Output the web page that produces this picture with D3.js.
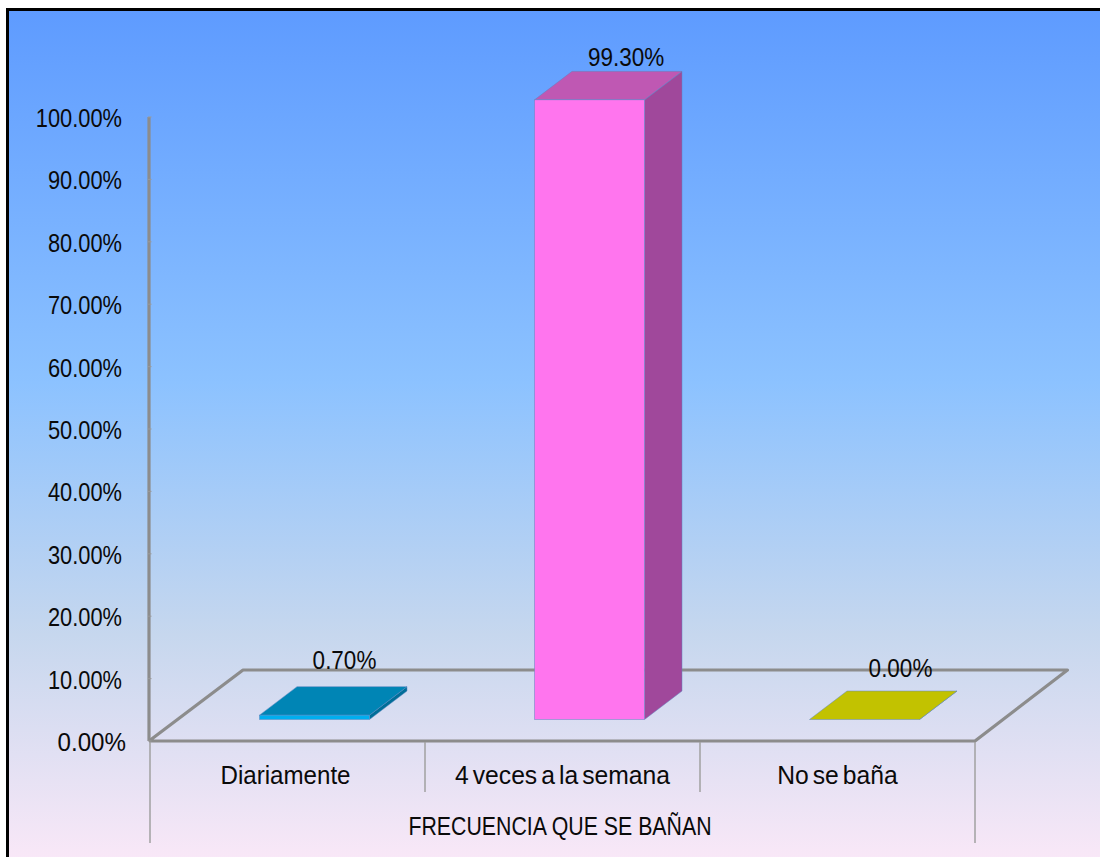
<!DOCTYPE html>
<html>
<head>
<meta charset="utf-8">
<style>
html,body{margin:0;padding:0;background:#fff;}
svg{display:block;}
text{font-family:"Liberation Sans",Arial,sans-serif;fill:#0a0a0a;}
</style>
<script src="https://cdn.jsdelivr.net/npm/d3@7/dist/d3.min.js"></script>
</head>
<body>
<div id="chart"></div>
<script>
// Chart data
const categories = ["Diariamente", "4 veces a la semana", "No se baña"];
const percentages = [0.70, 99.30, 0.00];
const valueLabels = ["0.70%", "99.30%", "0.00%"];
const tickValues = [0, 10, 20, 30, 40, 50, 60, 70, 80, 90, 100];
const axisTitle = "FRECUENCIA QUE SE BAÑAN";
const frontColors = ["#00AEEF", "#FF75EE", "#C8C800"];
const topColors = ["#0085B5", "#BF58B3", "#C2C200"];
const sideColors = ["#006E98", "#A0489B", "#A3A300"];

// Layout of the oblique 3D projection
const W = 1100, H = 857;
const floorDepth = {dx: 94, dy: -71};   // floor back edge relative to its front edge
const barDepth = {dx: 37.5, dy: -28.5}; // extrusion of each bar
const barInset = {dx: 27, dy: -21.5};   // bar front face relative to the floor's front edge
const labelNudge = [{dx: -7.5, dy: -18}, {dx: -1, dy: -5}, {dx: -1.5, dy: -14}];
const categoryNudge = [-2, 0, 0];
const categoryScale = [0.928, 0.95, 0.95];

const svg = d3.select("#chart").append("svg").attr("width", W).attr("height", H);

const defs = svg.append("defs");
const grad = defs.append("linearGradient").attr("id", "bg")
  .attr("x1", 0).attr("y1", 0).attr("x2", 0).attr("y2", 1);
[[0, "#5E9BFF"], [0.43, "#8CC2FF"], [0.72, "#C6D7EE"], [1, "#FDE9F8"]]
  .forEach(([o, c]) => grad.append("stop").attr("offset", o).attr("stop-color", c));

// Panel background and its black frame (runs off the right and bottom edges)
svg.append("rect").attr("x", 7.5).attr("y", 9.5).attr("width", W + 10).attr("height", H + 10)
  .attr("fill", "url(#bg)").attr("stroke", "#000").attr("stroke-width", 3);

const y = d3.scaleLinear().domain([0, 100]).range([741, 117]);
const x = d3.scaleBand().domain(categories).range([150, 975]).paddingInner(0).paddingOuter(0);
const barW = x.bandwidth() * 0.4;
const gridGray = "#8C8C8C";

const poly = pts => pts.map(p => p.join(",")).join(" ");
const baseline = y(0);

// Floor outline
const xL = x.range()[0], xR = x.range()[1];
svg.append("polyline")
  .attr("points", poly([
    [xL - 1, baseline], [xL - 1 + floorDepth.dx, baseline + floorDepth.dy],
    [xR + floorDepth.dx - 1.5, baseline + floorDepth.dy], [xR, baseline], [xL - 1, baseline]
  ]))
  .attr("fill", "none").attr("stroke", gridGray).attr("stroke-width", 3.2)
  .attr("stroke-linejoin", "round");

// Value axis line with small tick notches
svg.append("line").attr("x1", xL - 1).attr("x2", xL - 1).attr("y1", y(100)).attr("y2", baseline)
  .attr("stroke", gridGray).attr("stroke-width", 3.2);
svg.selectAll(".notch").data(tickValues).join("line").attr("class", "notch")
  .attr("x1", xL - 2).attr("x2", xL + 1.5)
  .attr("y1", d => y(d)).attr("y2", d => y(d))
  .attr("stroke", "#9a9a9a").attr("stroke-width", 1);

// Value axis labels; the zero label sits slightly wider and further right
svg.selectAll(".tick-label").data(tickValues).join("text").attr("class", "tick-label")
  .attr("text-anchor", "end").attr("font-size", 26)
  .attr("transform", d => d === 0
    ? `translate(126,${y(d) + 9.5}) scale(0.93,1)`
    : `translate(122,${y(d) + 10}) scale(0.84,1)`)
  .text(d => d3.format(".2f")(d) + "%");

// Category dividers: the outer pair reach down to the axis title row
const dividers = [xL, ...categories.map(c => x(c) + x.bandwidth())];
svg.selectAll(".divider").data(dividers).join("line").attr("class", "divider")
  .attr("x1", d => d).attr("x2", d => d).attr("y1", baseline + 1)
  .attr("y2", (d, i) => (i === 0 || i === dividers.length - 1) ? 843 : 792)
  .attr("stroke", "#A0A0A0").attr("stroke-width", 1.5);

// Bars: side and top faces behind the front face
const bars = svg.selectAll(".bar").data(categories).join("g").attr("class", "bar");
const geom = (c, i) => {
  const x0 = x(c) + (x.bandwidth() - barW) / 2 + barInset.dx;
  const bottom = baseline + barInset.dy;
  const top = bottom - (baseline - y(percentages[i]));
  return {x0, x1: x0 + barW, bottom, top};
};
const edge = "#5f86c0";
bars.append("polygon")
  .attr("points", (c, i) => {
    const g = geom(c, i);
    return poly([[g.x1, g.top], [g.x1 + barDepth.dx, g.top + barDepth.dy],
      [g.x1 + barDepth.dx, g.bottom + barDepth.dy], [g.x1, g.bottom]]);
  })
  .attr("fill", (c, i) => sideColors[i]).attr("stroke", edge).attr("stroke-width", 0.5);
bars.append("polygon")
  .attr("points", (c, i) => {
    const g = geom(c, i);
    return poly([[g.x0, g.top], [g.x0 + barDepth.dx, g.top + barDepth.dy],
      [g.x1 + barDepth.dx, g.top + barDepth.dy], [g.x1, g.top]]);
  })
  .attr("fill", (c, i) => topColors[i]).attr("stroke", edge).attr("stroke-width", 0.5);
bars.append("rect")
  .attr("x", (c, i) => geom(c, i).x0)
  .attr("y", (c, i) => geom(c, i).top)
  .attr("width", barW)
  .attr("height", (c, i) => geom(c, i).bottom - geom(c, i).top)
  .attr("fill", (c, i) => frontColors[i]).attr("stroke", edge).attr("stroke-width", 0.5);

// Value labels above each bar
svg.selectAll(".value").data(categories).join("text").attr("class", "value")
  .attr("text-anchor", "middle").attr("font-size", 26)
  .attr("transform", (c, i) => {
    const g = geom(c, i);
    const cx = (g.x0 + g.x1) / 2 + barDepth.dx + labelNudge[i].dx;
    const cy = g.top + barDepth.dy + labelNudge[i].dy;
    return `translate(${cx},${cy}) scale(0.865,1)`;
  })
  .text((c, i) => valueLabels[i]);

// Category labels
svg.selectAll(".category").data(categories).join("text").attr("class", "category")
  .attr("text-anchor", "middle").attr("font-size", 26)
  .attr("word-spacing", -3)
  .attr("transform", (c, i) =>
    `translate(${x(c) + x.bandwidth() / 2 + categoryNudge[i]},784) scale(${categoryScale[i]},1)`)
  .text(c => c);

// Axis title
svg.append("text").attr("text-anchor", "middle").attr("font-size", 26)
  .attr("transform", `translate(560,835) scale(0.82,1)`)
  .text(axisTitle);
</script>
</body>
</html>
